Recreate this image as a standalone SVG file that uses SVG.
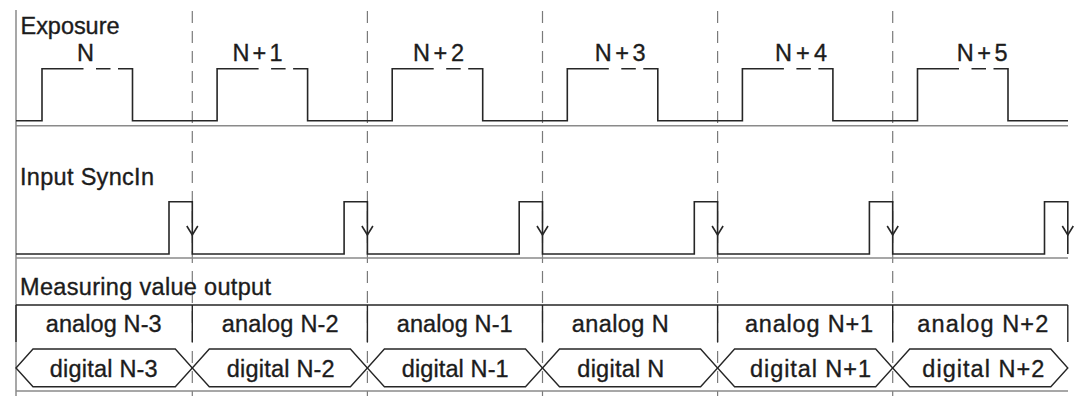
<svg xmlns="http://www.w3.org/2000/svg" width="1082" height="396" viewBox="0 0 1082 396">
<style>
  .t{font-family:"Liberation Sans",Arial,Helvetica,sans-serif;font-size:23.5px;fill:#1c1c1c;stroke:#1c1c1c;stroke-width:0.35}
  .sig{fill:none;stroke:#262626;stroke-width:1.6}
  .axis{fill:none;stroke:#8a8a8a;stroke-width:1.5}
  .grid{fill:none;stroke:#7a7a7a;stroke-width:1.2;stroke-dasharray:12 8}
  .box{fill:none;stroke:#262626;stroke-width:1.4}
</style>
<rect width="1082" height="396" fill="#fff"/>
<g id="grid">
  <line class="axis" x1="16" y1="10" x2="16" y2="396"/>
  <line class="grid" x1="192.3" y1="11" x2="192.3" y2="396"/>
  <line class="grid" x1="367.4" y1="11" x2="367.4" y2="396"/>
  <line class="grid" x1="542.5" y1="11" x2="542.5" y2="396"/>
  <line class="grid" x1="717.6" y1="11" x2="717.6" y2="396"/>
  <line class="grid" x1="892.7" y1="11" x2="892.7" y2="396"/>
</g>
<g id="exposure">
  <text class="t" x="20.5" y="33.5" textLength="99">Exposure</text>
  <line class="axis" x1="16" y1="125.8" x2="1068" y2="125.8"/>
  <path class="sig" d="M16,120.7 H42 V68.7 H83.5 M96,68.7 H110.5 M118,68.7 H132.5 V120.7 H217.1 V68.7 H258.6 M271.1,68.7 H285.6 M293.1,68.7 H307.6 V120.7 H392.2 V68.7 H433.7 M446.2,68.7 H460.7 M468.2,68.7 H482.7 V120.7 H567.3 V68.7 H608.8 M621.3,68.7 H635.8 M643.3,68.7 H657.8 V120.7 H742.4 V68.7 H783.9 M796.4,68.7 H810.9 M818.4,68.7 H832.9 V120.7 H917.5 V68.7 H959 M971.5,68.7 H986 M993.5,68.7 H1008 V120.7 H1068"/>
  <text class="t" x="77" y="61">N</text>
  <text class="t" x="232.5" y="61" textLength="50">N+1</text>
  <text class="t" x="413" y="61" textLength="51">N+2</text>
  <text class="t" x="594.7" y="61" textLength="51">N+3</text>
  <text class="t" x="775" y="61" textLength="52">N+4</text>
  <text class="t" x="956.7" y="61" textLength="51">N+5</text>
</g>
<g id="syncin">
  <text class="t" x="20" y="185" textLength="134">Input SyncIn</text>
  <line class="axis" x1="16" y1="258" x2="1068" y2="258"/>
  <path class="sig" d="M16,254 H169 V201.7 H192.3 V254 H344.1 V201.7 H367.4 V254 H519.2 V201.7 H542.5 V254 H694.3 V201.7 H717.6 V254 H869.4 V201.7 H892.7 V254 H1044.5 V201.7 H1067.8 V254"/>
  <path class="sig" stroke-width="1.2" d="M186.8,226 L192.3,235 L197.8,226 M361.9,226 L367.4,235 L372.9,226 M537,226 L542.5,235 L548,226 M712.1,226 L717.6,235 L723.1,226 M887.2,226 L892.7,235 L898.2,226 M1062.3,226 L1067.8,235 L1073.3,226"/>
</g>
<g id="output">
  <text class="t" x="20" y="295" textLength="251">Measuring value output</text>
  <path class="box" d="M16,305 H1067.8 M16,305 V342 M192.3,305 V342 M367.4,305 V342 M542.5,305 V342 M717.6,305 V342 M892.7,305 V342 M1067.8,305 V342"/>
  <g id="analog">
    <text class="t" x="45.7" y="332" textLength="116">analog N-3</text>
    <text class="t" x="221.7" y="332" textLength="117">analog N-2</text>
    <text class="t" x="396.7" y="332" textLength="116">analog N-1</text>
    <text class="t" x="571.7" y="332" textLength="97">analog N</text>
    <text class="t" x="745" y="332" textLength="128">analog N+1</text>
    <text class="t" x="917.3" y="332" textLength="131">analog N+2</text>
  </g>
  <g id="digital">
    <path class="box" d="M16,368 L33,349 H175.3 L192.3,368 L175.3,386.7 H33 Z"/>
    <path class="box" d="M192.3,368 L209.3,349 H350.4 L367.4,368 L350.4,386.7 H209.3 Z"/>
    <path class="box" d="M367.4,368 L384.4,349 H525.5 L542.5,368 L525.5,386.7 H384.4 Z"/>
    <path class="box" d="M542.5,368 L559.5,349 H700.6 L717.6,368 L700.6,386.7 H559.5 Z"/>
    <path class="box" d="M717.6,368 L734.6,349 H875.7 L892.7,368 L875.7,386.7 H734.6 Z"/>
    <path class="box" d="M892.7,368 L909.7,349 H1050.8 L1067.8,368 L1050.8,386.7 H909.7 Z"/>
    <text class="t" x="49.7" y="376.5" textLength="108">digital N-3</text>
    <text class="t" x="226.7" y="376.5" textLength="108">digital N-2</text>
    <text class="t" x="401.7" y="376.5" textLength="107">digital N-1</text>
    <text class="t" x="577.3" y="376.5" textLength="87">digital N</text>
    <text class="t" x="750" y="376.5" textLength="121">digital N+1</text>
    <text class="t" x="922.3" y="376.5" textLength="122">digital N+2</text>
  </g>
  <line class="axis" x1="16" y1="391" x2="1068" y2="391"/>
</g>
</svg>
